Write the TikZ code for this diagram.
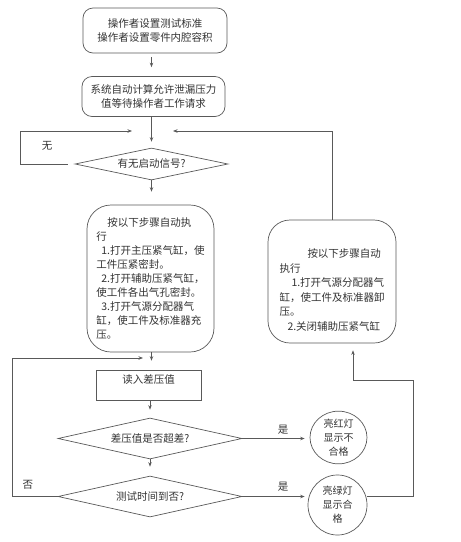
\documentclass[tikz,border=0pt]{standalone}
\usepackage{fontspec}
\setmainfont{Noto Sans CJK SC}
\usetikzlibrary{shapes.geometric,arrows.meta}
\begin{document}
\begin{tikzpicture}[x=1pt,y=-1pt,
  line width=0.7pt,
  every node/.style={text=black!80, font=\fontsize{10.5}{14}\selectfont},
  lines/.style={draw=black!65},
  rbox/.style={lines, rounded corners=10pt, minimum width=#1, inner sep=0pt, align=center},
  bigbox/.style={lines, rounded corners=24pt, inner sep=0pt, align=left},
  plainbox/.style={lines, inner sep=0pt},
  decision/.style={lines, diamond, aspect=4.5, inner sep=0pt},
  lamp/.style={lines, ellipse, inner sep=0pt, align=center, font=\fontsize{10}{14}\selectfont},
  arr/.style={lines, -{Stealth[length=4.5pt,width=3.5pt]}},
  lbl/.style={inner sep=0pt}
]
\useasboundingbox (0,0) rectangle (461,542);
\coordinate (ax) at (151.5,0);

\node[rbox=144pt, minimum height=45pt] (b1) at (155,30.5) {操作者设置测试标准\\操作者设置零件内腔容积};
\node[rbox=143pt, minimum height=40pt] (b2) at (153.5,96.5) {系统自动计算允许泄漏压力\\值等待操作者工作请求};
\node[decision, minimum width=153pt, minimum height=32pt] (d1) at (151.5,164) {有无启动信号?};
\node[bigbox, minimum width=127pt, minimum height=147pt] (b3) at (150.5,278.5)
  {\hspace*{11pt}按以下步骤自动执\\
   行\\
   \hspace*{5pt}1.打开主压紧气缸，使\\
   工件压紧密封。\\
   \hspace*{5pt}2.打开辅助压紧气缸，\\
   使工件各出气孔密封。\\
   \hspace*{5pt}3.打开气源分配器气\\
   缸，使工件及标准器充\\
   压。};
\node[bigbox, rounded corners=22pt, minimum width=128pt, minimum height=123pt,
      font=\fontsize{10.5}{14.5}\selectfont] (rb) at (332,281.5)
  {\rule{0pt}{26pt}\hspace*{28pt}按以下步骤自动\\
   执行\\
   \hspace*{12pt}1.打开气源分配器气\\
   缸，使工件及标准器卸\\
   压。\\
   \hspace*{8pt}2.关闭辅助压紧气缸};
\node[plainbox, minimum width=105pt, minimum height=30pt, text depth=12pt] (r1) at (148.5,385) {读入差压值};
\node[decision, minimum width=184pt, minimum height=41pt] (d2) at (150,438.5) {差压值是否超差?};
\node[decision, minimum width=184pt, minimum height=41pt] (d3) at (150,496.5) {测试时间到否?};
\node[lamp, minimum width=57pt, minimum height=51pt] (c1) at (338.5,437.5) {亮红灯\\显示不\\合格};
\node[lamp, minimum width=59pt, minimum height=60pt] (c2) at (337.5,505) {亮绿灯\\显示合\\格};

\node[lbl] (tw) at (47,146) {无};
\node[lbl] (ty1) at (283,430) {是};
\node[lbl] (ty2) at (283,487) {是};
\node[lbl] (tf) at (28,485) {否};

\coordinate (lA) at (20,131);
\coordinate (lT) at (132,131);
\coordinate (rT) at (173,131);
\coordinate (mA) at (12,358);
\coordinate (mT) at (143,358);
\coordinate (rA) at (413,380);
\coordinate (rB) at (353,380);

\draw[arr, shorten >=9pt, shorten <=4pt] (b1.south -| ax) -- (b2.north -| ax);
\draw[arr, shorten >=6pt] (b2.south -| ax) -- (d1.north -| ax);
\draw[lines] ([xshift=-7pt]d1.west) -| (lA);
\draw[arr] (lA) -- (lT);
\draw[arr] (rb.north) |- (rT);
\draw[arr, shorten >=13pt] (d1.south -| ax) -- (b3.north -| ax);
\draw[arr, shorten >=9pt] (b3.south -| ax) -- (r1.north -| ax);
\draw[lines] (d3.west) -| (mA);
\draw[arr] (mA) -- (mT);
\draw[arr, shorten >=8pt] (r1.south -| d2.north) -- (d2.north);
\draw[arr, shorten >=9pt] (d2.south) -- (d3.north);
\draw[arr, shorten >=5pt] (d2.east) -- (d2.east -| c1.west);
\draw[arr, shorten >=3pt] (d3.east) -- (d3.east -| c2.west);
\draw[lines] (c2.east |- d3.east) -| (rA) -- (rB);
\draw[arr, shorten >=7pt] (rB) -- (rb.south -| rB);
\end{tikzpicture}
\end{document}
